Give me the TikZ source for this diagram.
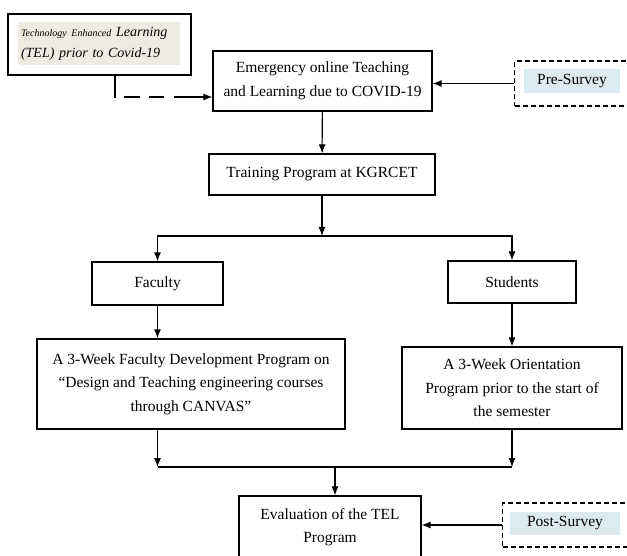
\documentclass[tikz,border=0pt]{standalone}
\usepackage{fontspec}
\setmainfont{Liberation Serif}
\usetikzlibrary{arrows.meta}
\definecolor{telbg}{HTML}{EEEBE3}
\definecolor{surveybg}{HTML}{DCEBF2}
\tikzset{
	box/.style={draw, line width=1.2pt, align=center, inner sep=0pt, font=\fontsize{15.5}{23.5}\selectfont},
	survey/.style={draw, dash pattern=on 5pt off 3pt, line width=1.2pt, inner sep=0pt},
	tag/.style={fill=surveybg, inner sep=0pt, font=\fontsize{15.5}{18}\selectfont},
	flow/.style={line width=1.1pt, -{Latex[length=9pt,width=7pt]}}
}

\begin{document}
\begin{tikzpicture}[x=1pt, y=-1pt]
		\clip (0,0) rectangle (627,556);
		\fill[white] (0,0) rectangle (627,556);

		% top row
		\node (tel)[box, minimum width=183pt, minimum height=61pt] at (99.5,44.5) {};
		\node (teltxt)[fill=telbg, inner xsep=3pt, inner ysep=0pt, text width=156pt, minimum height=43pt, align=left, font=\itshape\fontsize{14}{21}\selectfont] at (99,43.5)
			{{\fontsize{10}{12}\selectfont Technology Enhanced} Learning\\(TEL) prior to Covid-19};
		\node (emerg)[box, minimum width=219pt, minimum height=60pt] at (322.5,81) {Emergency online Teaching\\and Learning due to COVID-19};
		\node (pre)[survey, minimum width=125pt, minimum height=45pt, anchor=west] at (514,83.5) {};
		\node (pretag)[tag, minimum width=96pt, minimum height=24pt] at (572,81) {Pre-Survey};

		% training and the two groups
		\node (train)[box, minimum width=226pt, minimum height=41pt] at (322,174.5) {Training Program at KGRCET};
		\coordinate (split) at (322,236);
		\node (faculty)[box, minimum width=131pt, minimum height=43pt] at (157.5,283.5) {Faculty};
		\node (students)[box, minimum width=128pt, minimum height=42pt] at (512,282) {Students};
		\node (fdp)[box, minimum width=308pt, minimum height=90pt] at (191,384) {A 3-Week Faculty Development Program on\\``Design and Teaching engineering courses\\through CANVAS''};
		\node (orient)[box, minimum width=220pt, minimum height=82pt] at (512,388) {A 3-Week Orientation\\Program prior to the start of\\the semester};

		% evaluation
		\coordinate (merge) at (335,467);
		\node (eval)[box, minimum width=182pt, minimum height=62pt] at (330,527) {Evaluation of the TEL\\Program};
		\node (post)[survey, minimum width=135pt, minimum height=44pt, anchor=west] at (502,525) {};
		\node (posttag)[tag, minimum width=110pt, minimum height=23pt] at (565,523.5) {Post-Survey};

		\draw [flow, dash pattern=on 22pt off 8pt on 16pt off 9pt on 15pt off 10pt on 200pt]([xshift=15.5pt]tel.south) |- ([yshift=-16pt]emerg.west);
		\draw [flow](pre.west) -- (pre.west -| emerg.east);
		\draw [flow](emerg) -- (train);
		\draw [flow](train) -- (split);
		\draw [flow](split) -| (faculty);
		\draw [flow](split) -| (students);
		\draw [flow](faculty) -- (fdp.north -| faculty);
		\draw [flow](students) -- (orient);
		\draw [flow](fdp.south -| faculty) -- (merge -| faculty);
		\draw [flow](orient.south -| students) -- (merge -| students);
		\draw [line width=1.1pt](merge -| faculty) -- (merge -| students);
		\draw [flow](merge) -- (merge |- eval.north);
		\draw [flow](post.west) -- (post.west -| eval.east);
	\end{tikzpicture}
\end{document}
